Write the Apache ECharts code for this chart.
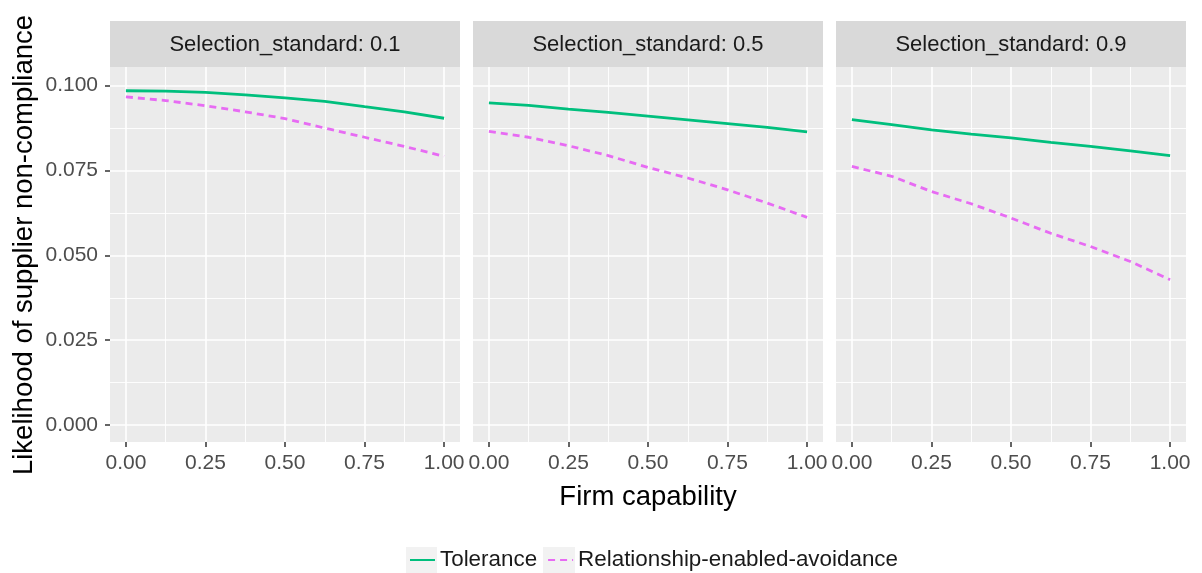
<!DOCTYPE html>
<html>
<head>
<meta charset="utf-8">
<script src="https://cdn.jsdelivr.net/npm/echarts@6/dist/echarts.min.js"></script>
<style>
html,body{margin:0;padding:0;background:#fff;}
#chart{width:1202px;height:573px;}
</style>
</head>
<body>
<div id="chart"></div>
<script>
// ---- data ----
const capability = [0, 0.125, 0.25, 0.375, 0.5, 0.625, 0.75, 0.875, 1];
const panels = ['Selection_standard: 0.1', 'Selection_standard: 0.5', 'Selection_standard: 0.9'];
const seriesNames = ['Tolerance', 'Relationship-enabled-avoidance'];
const tolerance01 = [0.0985, 0.0984, 0.0980, 0.0973, 0.0964, 0.0954, 0.0938, 0.0923, 0.0904];
const avoidance01 = [0.0967, 0.0956, 0.0941, 0.0923, 0.0903, 0.0875, 0.0848, 0.0821, 0.0792];
const tolerance05 = [0.0949, 0.0942, 0.0931, 0.0921, 0.0910, 0.0899, 0.0888, 0.0877, 0.0864];
const avoidance05 = [0.0865, 0.0848, 0.0823, 0.0794, 0.0759, 0.0728, 0.0693, 0.0654, 0.0612];
const tolerance09 = [0.0900, 0.0885, 0.0870, 0.0857, 0.0846, 0.0833, 0.0821, 0.0808, 0.0794];
const avoidance09 = [0.0762, 0.0733, 0.0688, 0.0652, 0.0610, 0.0565, 0.0526, 0.0482, 0.0428];
const xMajorTicks = [0, 0.25, 0.5, 0.75, 1];
const xMinorTicks = [0.125, 0.375, 0.625, 0.875];
const yMajorTicks = [0, 0.025, 0.05, 0.075, 0.1];
const yMinorTicks = [0.0125, 0.0375, 0.0625, 0.0875];
const xTitle = 'Firm capability';
const yTitle = 'Likelihood of supplier non-compliance';

const tolData = [tolerance01, tolerance05, tolerance09];
const avoData = [avoidance01, avoidance05, avoidance09];

// ---- layout ----
const FONT = '"Liberation Sans", Arial, sans-serif';
const panelLeft = [110, 473, 836];
const panelWidth = 350;
const panelTop = 67;
const panelHeight = 375;
const stripTop = 21;
const stripHeight = 46;
const GREEN = '#00BF7D';
const MAGENTA = '#E76BF3';

const grids = [], xAxes = [], yAxes = [], series = [], graphics = [];

panelLeft.forEach((left, i) => {
  grids.push({left: left, top: panelTop, width: panelWidth, height: panelHeight,
    show: true, backgroundColor: '#EBEBEB', borderWidth: 0});
  // major x axis
  xAxes.push({type: 'value', gridIndex: i, min: -0.05, max: 1.05, position: 'bottom',
    axisLine: {show: false, onZero: false},
    axisTick: {show: true, length: 5, customValues: xMajorTicks, lineStyle: {color: '#333333', width: 1.5}},
    axisLabel: {show: true, customValues: xMajorTicks, margin: 11, color: '#4D4D4D', fontSize: 21, fontFamily: FONT,
      formatter: v => v.toFixed(2)},
    splitLine: {show: true, lineStyle: {color: '#FFFFFF', width: 1.6}}
  });
  // minor x axis (grid lines only)
  xAxes.push({type: 'value', gridIndex: i, min: -0.05, max: 1.05, position: 'top',
    axisLine: {show: false, onZero: false},
    axisTick: {show: false, customValues: xMinorTicks},
    axisLabel: {show: false, customValues: xMinorTicks},
    splitLine: {show: true, lineStyle: {color: '#FFFFFF', width: 0.9}}
  });
  // major y axis
  yAxes.push({type: 'value', gridIndex: i, min: -0.005, max: 0.1055, position: 'left',
    axisLine: {show: false, onZero: false},
    axisTick: {show: i === 0, length: 5, customValues: yMajorTicks, lineStyle: {color: '#333333', width: 1.5}},
    axisLabel: {show: i === 0, customValues: yMajorTicks, margin: 12, color: '#4D4D4D', fontSize: 21, fontFamily: FONT,
      formatter: v => v.toFixed(3)},
    splitLine: {show: true, lineStyle: {color: '#FFFFFF', width: 1.6}}
  });
  // minor y axis
  yAxes.push({type: 'value', gridIndex: i, min: -0.005, max: 0.1055, position: 'right',
    axisLine: {show: false, onZero: false},
    axisTick: {show: false, customValues: yMinorTicks},
    axisLabel: {show: false, customValues: yMinorTicks},
    splitLine: {show: true, lineStyle: {color: '#FFFFFF', width: 0.9}}
  });

  series.push({name: seriesNames[0], type: 'line', xAxisIndex: 2 * i, yAxisIndex: 2 * i,
    data: capability.map((c, k) => [c, tolData[i][k]]),
    showSymbol: false, symbol: 'none', smooth: false, z: 5,
    lineStyle: {color: GREEN, width: 2.8, type: 'solid'}, itemStyle: {color: GREEN}});
  series.push({name: seriesNames[1], type: 'line', xAxisIndex: 2 * i, yAxisIndex: 2 * i,
    data: capability.map((c, k) => [c, avoData[i][k]]),
    showSymbol: false, symbol: 'none', smooth: false, z: 5,
    lineStyle: {color: MAGENTA, width: 2.8, type: [7, 5]}, itemStyle: {color: MAGENTA}});

  // strip
  graphics.push({type: 'rect', left: left, top: stripTop, z: 0,
    shape: {width: panelWidth, height: stripHeight}, style: {fill: '#D9D9D9'}});
  graphics.push({type: 'text', x: left + panelWidth / 2, y: stripTop + stripHeight / 2 + 1, z: 1,
    style: {text: panels[i], fill: '#1A1A1A', font: '22px ' + FONT, textAlign: 'center', textVerticalAlign: 'middle'}});
});

// axis titles
graphics.push({type: 'text', x: 648, y: 497, z: 1,
  style: {text: xTitle, fill: '#000000', font: '27.5px ' + FONT, textAlign: 'center', textVerticalAlign: 'middle'}});
graphics.push({type: 'text', x: 24, y: 245, rotation: Math.PI / 2, z: 1,
  style: {text: yTitle, fill: '#000000', font: '27.5px ' + FONT, textAlign: 'center', textVerticalAlign: 'middle'}});
// legend key backgrounds
graphics.push({type: 'rect', left: 406, top: 547, z: 0, shape: {width: 31, height: 26}, style: {fill: '#F2F2F2'}});
graphics.push({type: 'rect', left: 543, top: 547, z: 0, shape: {width: 32, height: 26}, style: {fill: '#F2F2F2'}});

const option = {
  animation: false,
  backgroundColor: '#FFFFFF',
  grid: grids,
  xAxis: xAxes,
  yAxis: yAxes,
  series: series,
  legend: {
    data: seriesNames,
    left: 409, top: 549, padding: 0,
    itemWidth: 25, itemHeight: 20, itemGap: 10,
    itemStyle: {opacity: 0},
    textStyle: {fontSize: 22.4, color: '#1A1A1A', fontFamily: FONT},
    selectedMode: false
  },
  graphic: graphics
};

const chart = echarts.init(document.getElementById('chart'), null, {renderer: 'canvas'});
chart.setOption(option);
</script>
</body>
</html>
